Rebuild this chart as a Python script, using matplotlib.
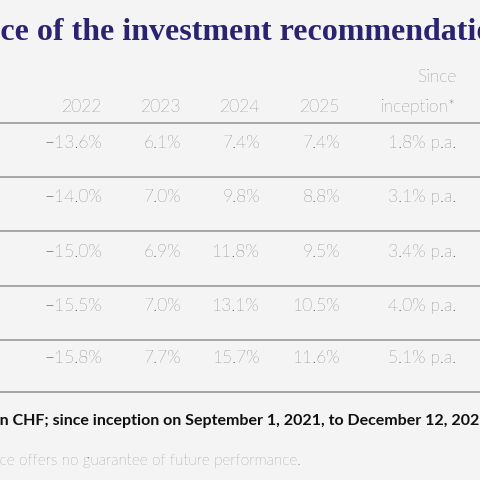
import matplotlib
matplotlib.use("Agg")
import matplotlib.pyplot as plt

years = ["2022", "2023", "2024", "2025"]
since_label = ["Since", "inception*"]
v2022 = ["−13.6%", "−14.0%", "−15.0%", "−15.5%", "−15.8%"]
v2023 = ["6.1%", "7.0%", "6.9%", "7.0%", "7.7%"]
v2024 = ["7.4%", "9.8%", "11.8%", "13.1%", "15.7%"]
v2025 = ["7.4%", "8.8%", "9.5%", "10.5%", "11.6%"]
vsince = ["1.8% p.a.", "3.1% p.a.", "3.4% p.a.", "4.0% p.a.", "5.1% p.a."]
title = "Performance of the investment recommendations"
note1 = "*Performance in CHF; since inception on September 1, 2021, to December 12, 2025"
note2 = "Past performance offers no guarantee of future performance."

W = H = 480
fig = plt.figure(figsize=(4.8, 4.8), dpi=100, facecolor="#f4f4f4")
fig.canvas.draw()
r = fig.canvas.get_renderer()

def px(x, y):
    return x / W, 1 - y / H

def prefix_text(full, prefix, x_vis, y, **kw):
    t = fig.text(0, 0, prefix, **kw)
    w = t.get_window_extent(r).width
    t.remove()
    fig.text(*px(x_vis - w, y), full, va="center", ha="left", **kw)

sans = dict(family=["Lato", "DejaVu Sans"])
prefix_text(title, "Performan", 0, 32, fontsize=23, fontweight="bold",
            family="Liberation Serif", color="#2b2372")

colx = [102, 181, 260, 340, 456]
gray = "#333333"
num = dict(fontsize=12.5, color=gray, fontweight="light", **sans)
for i, yv in enumerate(years):
    fig.text(*px(colx[i], 107), yv, ha="right", va="center", **num)
fig.text(*px(colx[4], 77), since_label[0], ha="right", va="center", **num)
fig.text(*px(colx[4], 107), since_label[1], ha="right", va="center", **num)

rows_y = [143, 197, 252, 306, 358]
cols = [v2022, v2023, v2024, v2025, vsince]
for j, y in enumerate(rows_y):
    for i, c in enumerate(cols):
        fig.text(*px(colx[i], y), c[j], ha="right", va="center", **num)

for y in [123, 177, 231, 286, 340, 392]:
    fig.add_artist(plt.Line2D([0, 1], [1 - y / H] * 2, color="#a0a0a0", lw=1.3,
                              transform=fig.transFigure))

prefix_text(note1, "*Performance i", 0, 421, fontsize=11.5, fontweight="bold", color="#111111", **sans)
prefix_text(note2, "Past performan", 0, 461, fontsize=11, color="#555555", fontweight="light", **sans)

fig.savefig("out.png", dpi=100, facecolor=fig.get_facecolor())
